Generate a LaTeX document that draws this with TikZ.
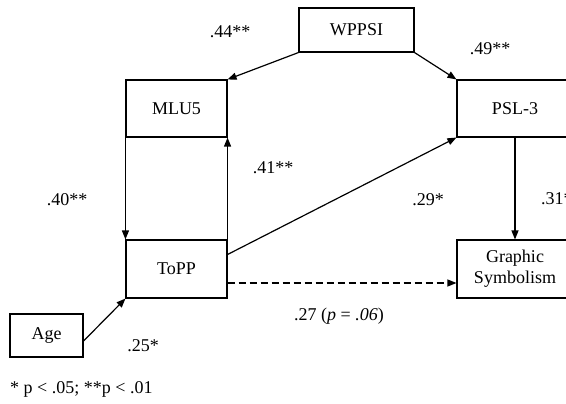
\documentclass[tikz,border=0pt]{standalone}
\usepackage{fontspec}
\setmainfont{Liberation Serif}
\usetikzlibrary{positioning,arrows.meta}

\begin{document}
\begin{tikzpicture}[x=1pt, y=-1pt,
        every node/.style={font=\fontsize{18}{21}\selectfont},
        b/.style={draw, line width=1.1pt, align=center, inner sep=0pt, minimum width=101pt, minimum height=57pt},
        coef/.style={inner sep=0pt},
        arr/.style={-{Triangle[length=9pt, width=7pt]}, line width=1.2pt}]
      \useasboundingbox (0,0) rectangle (566,404);
      \clip (0,0) rectangle (566,404);
      \node[b, minimum width=115pt, minimum height=44pt] (wppsi) at (356.5,30) {WPPSI};
      \node[b] (mlu) at (176.5,108.5) {MLU5};
      \node[b, minimum width=116pt] (psl) at (515,108.5) {PSL-3};
      \node[b, minimum height=58pt] (topp) at (176.5,269) {ToPP};
      \node[b, minimum width=116pt, minimum height=58pt] (graph) at (515,269) {Graphic\\Symbolism};
      \node[b, minimum width=73pt, minimum height=43pt] (age) at (46.5,335.5) {Age};
      \draw[arr] (wppsi.south west) -- (mlu.north east);
      \draw[arr] (wppsi.south east) -- (psl.north west);
      \draw[arr] (mlu.south west) -- (topp.north west);
      \draw[arr] (topp.north east) -- (mlu.south east);
      \draw[arr] ([yshift=14.5pt]topp.east) -- (psl.south west);
      \draw[arr] (psl.south) -- (graph.north);
      \draw[arr, dash pattern=on 7pt off 4pt] ([yshift=-14pt]topp.east) -- ([yshift=-14pt]graph.west);
      \draw[arr] ([yshift=-5.5pt]age.east) -- (topp.south west);
      % path coefficients
      \node[coef] (c44) at (230,32) {.44**};
      \node[coef] (c49) at (490,49) {.49**};
      \node[coef] (c41) at (273,168) {.41**};
      \node[coef] (c40) at (67,200) {.40**};
      \node[coef] (c29) at (428,200) {.29*};
      \node[coef, anchor=west] (c31) at (541,199) {.31*};
      \node[coef] (c27) at (339,316) {.27 (\textit{p} = \textit{.06})};
      \node[coef] (c25) at (143,346) {.25*};
      \node[coef, anchor=west] (note) at (10,389) {* p < .05; **p < .01};
      \end{tikzpicture}
\end{document}
